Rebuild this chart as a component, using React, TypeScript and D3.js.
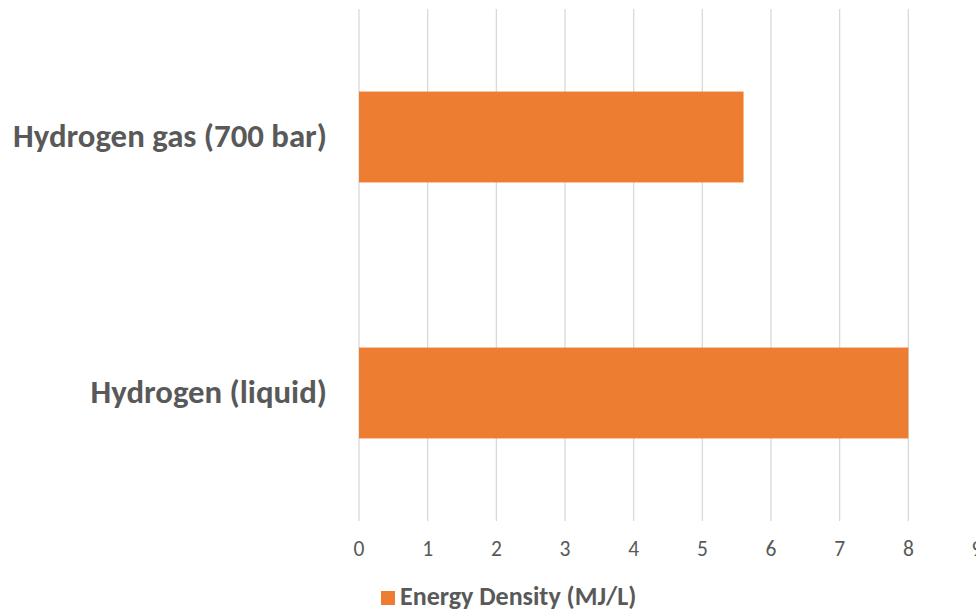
import React from "react";
import * as d3 from "d3";

const categories = ["Hydrogen gas (700 bar)", "Hydrogen (liquid)"];
const values = [5.6, 8.0];
const xTicks = [0, 1, 2, 3, 4, 5, 6, 7, 8, 9];
const seriesName = "Energy Density (MJ/L)";

const W = 976;
const H = 612;
const FONT = "Carlito, Calibri, 'Open Sans', sans-serif";

export default function App() {
  const x = d3.scaleLinear().domain([0, 9]).range([359, 977]);
  const y = d3
    .scaleBand<string>()
    .domain(categories)
    .range([9, 521])
    .paddingInner(0.645)
    .paddingOuter(0.3225);

  return (
    <svg
      width={W}
      height={H}
      style={{ position: "absolute", left: 0, top: 0, background: "#fff" }}
    >
      {xTicks.map((t) => (
        <line
          key={"g" + t}
          x1={x(t)}
          x2={x(t)}
          y1={9}
          y2={521}
          stroke="#d9d9d9"
          strokeWidth={1.3}
        />
      ))}
      {categories.map((c, i) => (
        <rect
          key={c}
          x={x(0)}
          y={y(c)}
          width={x(values[i]) - x(0)}
          height={y.bandwidth()}
          fill="#ED7D31"
        />
      ))}
      {xTicks.map((t) => (
        <text
          key={"t" + t}
          x={x(t)}
          y={556}
          textAnchor="middle"
          fontFamily={FONT}
          fontSize={21.5}
          fill="#595959"
        >
          {t}
        </text>
      ))}
      {categories.map((c) => (
        <text
          key={"l" + c}
          x={327}
          y={(y(c) as number) + y.bandwidth() / 2 + 9.5}
          textAnchor="end"
          fontFamily={FONT}
          fontWeight="bold"
          fontSize={32.8}
          fill="#595959"
        >
          {c}
        </text>
      ))}
      <rect x={381} y={591} width={14} height={14} fill="#ED7D31" />
      <text
        x={400}
        y={605}
        fontFamily={FONT}
        fontWeight="bold"
        fontSize={26}
        fill="#595959"
      >
        {seriesName}
      </text>
    </svg>
  );
}
